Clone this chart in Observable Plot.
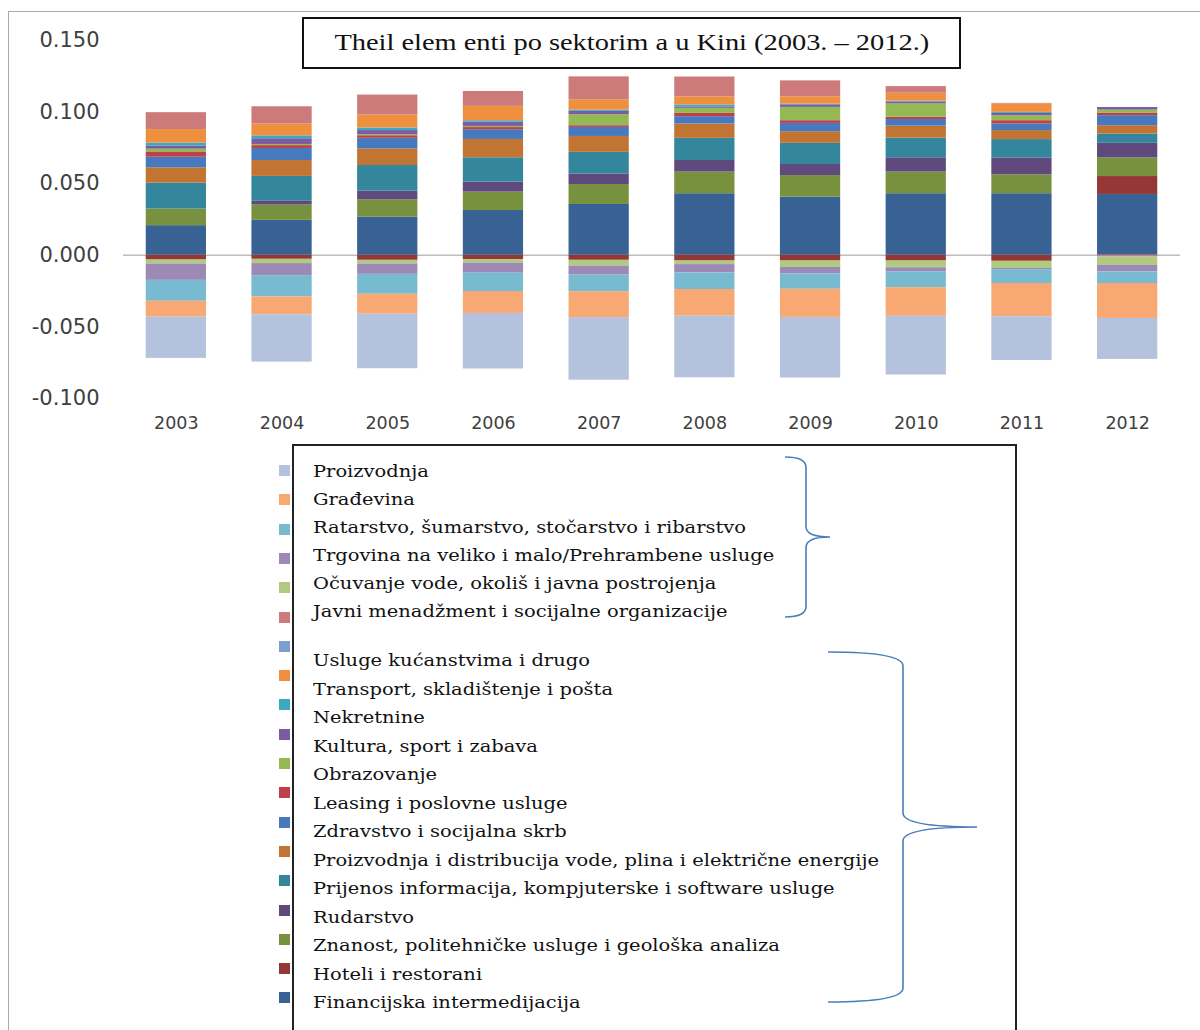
<!DOCTYPE html>
<html>
<head>
<meta charset="utf-8">
<script src="https://cdn.jsdelivr.net/npm/d3@7"></script>
<script src="https://cdn.jsdelivr.net/npm/@observablehq/plot@0.6"></script>
<style>
  html, body { margin: 0; padding: 0; background: #fff; overflow: hidden; }
  #page { position: relative; width: 1200px; height: 1030px; overflow: hidden; background: #fff; }
  #frame { position: absolute; left: 8px; top: 11px; width: 1300px; height: 1100px; border: 1.5px solid #a9a9a9; }
  #chart { position: absolute; left: 0; top: 0; }
  #title { position: absolute; left: 302px; top: 17px; width: 655px; height: 48px; border: 2px solid #111;
           background: #fff; display: flex; align-items: center; justify-content: center; }
  #title span { font-family: "Liberation Serif", serif; font-size: 23px; color: #111; display: inline-block;
                transform: scaleX(1.235); white-space: nowrap; }
  #legendBox { position: absolute; left: 292px; top: 444px; width: 721px; height: 700px; border: 2px solid #222; background: #fff; }
  .sq { position: absolute; left: 279px; width: 11px; height: 11px; }
  .lab { position: absolute; left: 313px; font-family: "DejaVu Serif", serif; font-size: 17px; color: #111;
         white-space: nowrap; transform-origin: 0 50%; transform: scaleX(1.145); line-height: 20px; height: 20px; }
  #braces { position: absolute; left: 0; top: 0; }
</style>
</head>
<body>
<div id="page">
  <div id="frame"></div>
  <div id="chart"></div>
  <div id="title"><span>Theil elem enti po sektorim a u Kini (2003. – 2012.)</span></div>
  <div id="legendBox"></div>
  <div id="legend"></div>
  <svg id="braces" width="1200" height="1030"></svg>
</div>
<script>
// ---------- DATA ----------
const years = ["2003", "2004", "2005", "2006", "2007", "2008", "2009", "2010", "2011", "2012"];
const yTicks = [-0.1, -0.05, 0, 0.05, 0.1, 0.15];

// Sectors in stacking order (first = bottom of the positive stack)
const sectors = [
  "Financijska intermedijacija",
  "Hoteli i restorani",
  "Znanost, politehničke usluge i geološka analiza",
  "Rudarstvo",
  "Prijenos informacija, kompjuterske i software usluge",
  "Proizvodnja i distribucija vode, plina i električne energije",
  "Zdravstvo i socijalna skrb",
  "Leasing i poslovne usluge",
  "Obrazovanje",
  "Kultura, sport i zabava",
  "Nekretnine",
  "Transport, skladištenje i pošta",
  "Usluge kućanstvima i drugo",
  "Javni menadžment i socijalne organizacije",
  "Očuvanje vode, okoliš i javna postrojenja",
  "Trgovina na veliko i malo/Prehrambene usluge",
  "Ratarstvo, šumarstvo, stočarstvo i ribarstvo",
  "Građevina",
  "Proizvodnja"
];

const colors = [
  "#386294", "#943735", "#77913f", "#604a7d", "#33869b", "#c27432",
  "#4679bd", "#c0404a", "#94b853", "#7b5ca3", "#3ca8c2", "#ef903f",
  "#7d9ed0", "#cc7a7a", "#b0ca80", "#9c89b6", "#78bacf", "#f7a873", "#b4c2dd"
];

// Values per sector, 2003 … 2012
const financijska  = [0.0207, 0.0244, 0.0267, 0.0313, 0.0355, 0.0430, 0.0406, 0.0430, 0.0430, 0.0425];
const hoteli       = [-0.0033, -0.0028, -0.0035, -0.0030, -0.0035, -0.0040, -0.0040, -0.0040, -0.0042, 0.0125];
const znanost      = [0.0116, 0.0107, 0.0121, 0.0128, 0.0139, 0.0151, 0.0151, 0.0151, 0.0132, 0.0130];
const rudarstvo    = [0.0000, 0.0026, 0.0060, 0.0070, 0.0074, 0.0081, 0.0077, 0.0100, 0.0118, 0.0102];
const prijenos     = [0.0181, 0.0174, 0.0179, 0.0170, 0.0151, 0.0155, 0.0148, 0.0137, 0.0128, 0.0065];
const energija     = [0.0107, 0.0111, 0.0116, 0.0128, 0.0111, 0.0100, 0.0081, 0.0084, 0.0063, 0.0058];
const zdravstvo    = [0.0074, 0.0084, 0.0074, 0.0068, 0.0063, 0.0051, 0.0058, 0.0046, 0.0046, 0.0070];
const leasing      = [0.0033, 0.0020, 0.0018, 0.0015, 0.0012, 0.0023, 0.0019, 0.0016, 0.0023, 0.0016];
const obrazovanje  = [0.0023, 0.0008, 0.0008, 0.0008, 0.0077, 0.0035, 0.0093, 0.0093, 0.0035, 0.0023];
const kultura      = [0.0022, 0.0040, 0.0028, 0.0030, 0.0023, 0.0010, 0.0018, 0.0014, 0.0016, 0.0018];
const nekretnine   = [0.0020, 0.0020, 0.0018, 0.0010, 0.0009, 0.0014, 0.0005, 0.0005, 0.0007, 0.0000];
const transport    = [0.0095, 0.0083, 0.0091, 0.0100, 0.0072, 0.0056, 0.0051, 0.0056, 0.0058, 0.0000];
const usluge       = [0.0000, 0.0000, 0.0000, 0.0000, 0.0000, 0.0000, 0.0000, 0.0000, 0.0000, 0.0000];
const javni        = [0.0118, 0.0120, 0.0139, 0.0104, 0.0160, 0.0139, 0.0111, 0.0046, 0.0005, -0.0012];
const ocuvanje     = [-0.0028, -0.0030, -0.0026, -0.0025, -0.0040, -0.0025, -0.0045, -0.0047, -0.0050, -0.0058];
const trgovina     = [-0.0114, -0.0084, -0.0072, -0.0070, -0.0063, -0.0058, -0.0045, -0.0030, -0.0008, -0.0046];
const ratarstvo    = [-0.0146, -0.0149, -0.0139, -0.0128, -0.0116, -0.0116, -0.0107, -0.0109, -0.0097, -0.0081];
const gradjevina   = [-0.0111, -0.0124, -0.0139, -0.0153, -0.0181, -0.0186, -0.0197, -0.0200, -0.0232, -0.0244];
const proizvodnja  = [-0.0288, -0.0331, -0.0381, -0.0388, -0.0437, -0.0430, -0.0423, -0.0410, -0.0306, -0.0286];

const seriesValues = [financijska, hoteli, znanost, rudarstvo, prijenos, energija, zdravstvo, leasing,
  obrazovanje, kultura, nekretnine, transport, usluge, javni, ocuvanje, trgovina, ratarstvo, gradjevina, proizvodnja];

// ---------- CHART ----------
const data = sectors.flatMap((s, i) => years.map((y, j) => ({sector: s, year: y, value: seriesValues[i][j]})));

const chart = Plot.plot({
  width: 1200,
  height: 440,
  marginTop: 40,
  marginBottom: 42,
  marginLeft: 123,
  marginRight: 20,
  style: {fontFamily: "DejaVu Sans", color: "#404040", background: "transparent", overflow: "visible"},
  x: {domain: years, paddingInner: 0.43, paddingOuter: 0.215, round: false},
  y: {domain: [-0.1, 0.15]},
  color: {domain: sectors, range: colors},
  marks: [
    Plot.ruleY([0], {stroke: "#bdbdbd", strokeWidth: 1.5}),
    Plot.barY(data, {x: "year", y: "value", fill: "sector"}),
    Plot.axisY({ticks: yTicks, tickFormat: d => d.toFixed(3), tickSize: 0, tickPadding: 24, fontSize: 21, label: null}),
    Plot.axisX({tickSize: 0, tickPadding: 18, fontSize: 17.5, label: null})
  ]
});
document.getElementById("chart").appendChild(chart);

// ---------- LEGEND ----------
const legendOrder = sectors.map((s, i) => ({s, c: colors[i]})).reverse();
const legend = document.getElementById("legend");
legendOrder.forEach((d, i) => {
  const sq = document.createElement("div");
  sq.className = "sq";
  sq.style.background = d.c;
  sq.style.top = (465 + i * 29.3) + "px";
  legend.appendChild(sq);
  const lab = document.createElement("div");
  lab.className = "lab";
  lab.textContent = d.s;
  const cy = i < 6 ? 470 + i * 27.9 : 659 + (i - 6) * 28.5;
  lab.style.top = (cy - 9) + "px";
  legend.appendChild(lab);
});

// ---------- BRACES ----------
const br = d3.select("#braces");
const brace = (x0, xv, xt, y0, y1) => {
  const ym = (y0 + y1) / 2, r = Math.min(14, (xv - x0) * 0.5);
  return `M${x0},${y0} Q${xv},${y0} ${xv},${y0 + r} L${xv},${ym - r} Q${xv},${ym} ${xt},${ym} ` +
         `Q${xv},${ym} ${xv},${ym + r} L${xv},${y1 - r} Q${xv},${y1} ${x0},${y1}`;
};
br.append("path").attr("d", brace(785, 806, 830, 457, 617)).attr("fill", "none").attr("stroke", "#4a7ebb").attr("stroke-width", 1.6);
br.append("path").attr("d", brace(828, 903, 977, 652, 1002)).attr("fill", "none").attr("stroke", "#4a7ebb").attr("stroke-width", 1.6);
</script>
</body>
</html>
